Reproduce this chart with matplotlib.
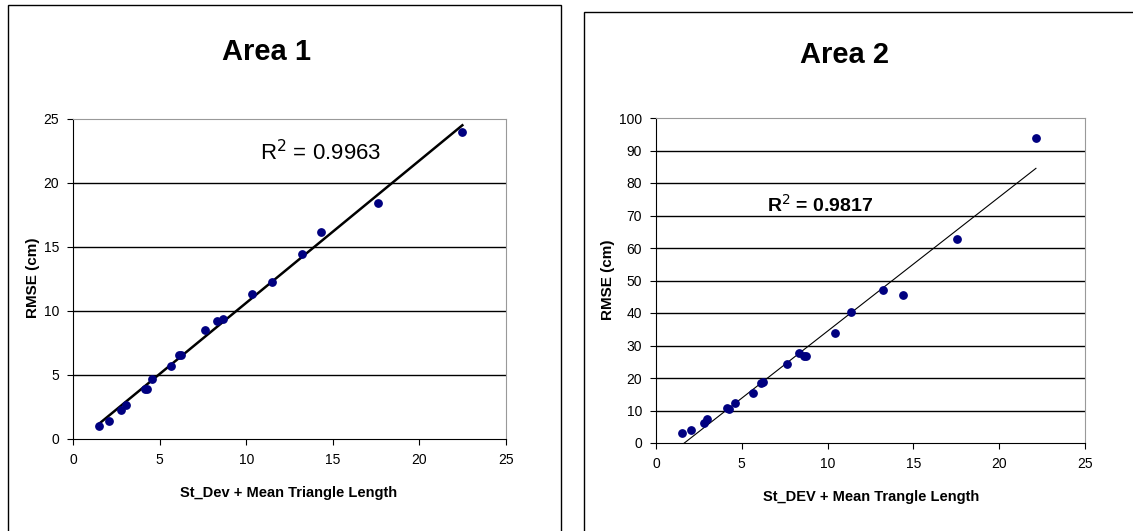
import matplotlib
matplotlib.use("Agg")
import matplotlib.pyplot as plt
from matplotlib.patches import Rectangle
import numpy as np

plt.rcParams['font.family'] = ['Liberation Sans', 'DejaVu Sans']

# Area 1 data
x1 = [1.48, 2.06, 2.79, 3.05, 4.14, 4.30, 4.57, 5.67, 6.11, 6.23,
      7.61, 8.29, 8.64, 10.35, 11.47, 13.22, 14.30, 17.60, 22.48]
y1 = [1.04, 1.43, 2.27, 2.66, 3.91, 3.91, 4.66, 5.73, 6.59, 6.59,
      8.52, 9.22, 9.35, 11.35, 12.27, 14.43, 16.15, 18.41, 23.98]

# Area 2 data
x2 = [1.50, 2.06, 2.82, 2.99, 4.16, 4.26, 4.59, 5.66, 6.12, 6.24,
      7.62, 8.32, 8.65, 8.77, 10.42, 11.39, 13.24, 14.37, 17.53, 22.14]
y2 = [2.97, 4.09, 6.04, 7.27, 10.64, 10.34, 12.18, 15.35, 18.42, 18.73,
      24.26, 27.84, 26.92, 26.92, 33.98, 40.22, 47.08, 45.65, 62.74, 93.76]

r2_labels = ["0.9963", "0.9817"]

W, H = 1133, 531
fig = plt.figure(figsize=(W / 100, H / 100), dpi=100)

# chart frames
fig.add_artist(Rectangle((8 / W, -0.01), 553 / W, 1 - 5 / H + 0.01,
                         transform=fig.transFigure, fill=False, ec='black', lw=1))
fig.add_artist(Rectangle((584 / W, -0.01), 560 / W, 1 - 12 / H + 0.01,
                         transform=fig.transFigure, fill=False, ec='black', lw=1))


def style_axes(ax, ymax, ystep):
    ax.set_xlim(0, 25)
    ax.set_ylim(0, ymax)
    ax.set_xticks(np.arange(0, 26, 5))
    ax.set_yticks(np.arange(0, ymax + 1, ystep))
    ax.tick_params(direction='out', length=4, width=0.8, labelsize=10, pad=6)
    for g in np.arange(ystep, ymax, ystep):
        ax.axhline(g, color='black', lw=1, zorder=1)
    ax.spines['top'].set_color('#999999')
    ax.spines['right'].set_color('#999999')
    ax.spines['left'].set_color('black')
    ax.spines['bottom'].set_color('black')


# Area 1
ax1 = fig.add_axes([73 / W, 1 - 439 / H, 433 / W, 320 / H])
style_axes(ax1, 25, 5)
ax1.scatter(x1, y1, s=28, color='#000080', zorder=3)
k1 = np.polyfit(x1, y1, 1)
xs = np.array([min(x1), max(x1)])
ax1.plot(xs, np.polyval(k1, xs), color='black', lw=1.8, zorder=2)
ax1.text(10.8, 22.4, "R$^2$ = " + r2_labels[0], fontsize=16, va='center')
fig.text(266 / W, 1 - 52 / H, "Area 1", fontsize=21, fontweight='bold',
         ha='center', va='center')
fig.text(33 / W, 1 - 278 / H, "RMSE (cm)", fontsize=11, fontweight='bold',
         rotation=90, ha='center', va='center')
fig.text(289 / W, 1 - 493 / H, "St_Dev + Mean Triangle Length", fontsize=10.5,
         fontweight='bold', ha='center', va='center')

# Area 2
ax2 = fig.add_axes([656 / W, 1 - 443 / H, 429 / W, 325 / H])
style_axes(ax2, 100, 10)
ax2.scatter(x2, y2, s=28, color='#000080', zorder=3)
k2 = np.polyfit(x2, y2, 1)
xs = np.array([min(x2), max(x2)])
ax2.plot(xs, np.polyval(k2, xs), color='black', lw=0.8, zorder=2)
ax2.text(6.49, 73.2, "R$^2$ = " + r2_labels[1], fontsize=14, fontweight='bold',
         va='center')
fig.text(844 / W, 1 - 55 / H, "Area 2", fontsize=21, fontweight='bold',
         ha='center', va='center')
fig.text(608 / W, 1 - 280 / H, "RMSE (cm)", fontsize=11, fontweight='bold',
         rotation=90, ha='center', va='center')
fig.text(871 / W, 1 - 497 / H, "St_DEV + Mean Trangle Length", fontsize=10.5,
         fontweight='bold', ha='center', va='center')

fig.savefig("out.png", dpi=100)
